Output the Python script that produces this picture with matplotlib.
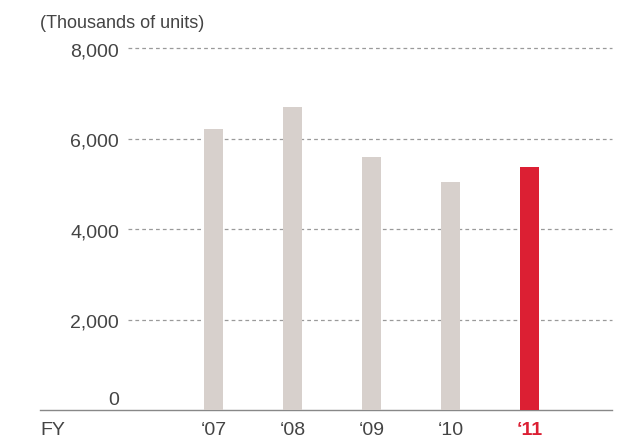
import matplotlib.pyplot as plt

years = ["\u201807", "\u201808", "\u201809", "\u201810", "\u201811"]
units = [6220, 6700, 5600, 5050, 5380]
y_ticks = [0, 2000, 4000, 6000, 8000]

grey = "#d7d0cc"
red = "#dc1f33"
text_col = "#444444"

plt.rcParams["font.family"] = ["Liberation Sans", "DejaVu Sans"]

fig = plt.figure(figsize=(6.23, 4.40), dpi=100)
ax = fig.add_axes([40 / 623, 1 - 410.3 / 440, 572 / 623, 362 / 440])

x = list(range(len(years)))
colors = [grey] * (len(years) - 1) + [red]
ax.bar(x, units, width=19 / 79, color=colors, zorder=3)

ax.set_xlim((40 - 213.5) / 79, (612 - 213.5) / 79)
ax.set_ylim(0, 8000)
px = 8000 / 362  # data units per pixel (vertical)

# dashed grid lines, starting right of the tick labels
grid_start = (128 - 213.5) / 79
for t in y_ticks[1:]:
    ax.plot([grid_start, ax.get_xlim()[1]], [t, t], ls=(0, (3, 2.5)),
            color="#9a9a9a", lw=0.9, zorder=1, clip_on=False)

label_x = (119 - 213.5) / 79
for t in y_ticks:
    yy = t - 8 * px if t else 5 * px
    ax.text(label_x, yy, f"{t:,}", ha="right", va="baseline",
            fontsize=14, color=text_col)

ax.text((40 - 213.5) / 79, 8000 + 20.5 * px, "(Thousands of units)",
        ha="left", va="baseline", fontsize=13, color=text_col)

for s in ["top", "right", "left"]:
    ax.spines[s].set_visible(False)
ax.spines["bottom"].set_color("#888888")
ax.spines["bottom"].set_linewidth(1)
ax.set_yticks([])
ax.set_xticks([])

base = -25 * px
for i, yr in enumerate(years):
    last = i == len(years) - 1
    ax.text(x[i], base, yr, ha="center", va="baseline", fontsize=14,
            color=red if last else text_col,
            fontweight="bold" if last else "normal")

ax.text((40 - 213.5) / 79, base, "FY", ha="left", va="baseline",
        fontsize=14, color=text_col)

fig.savefig("out.png", dpi=100)
